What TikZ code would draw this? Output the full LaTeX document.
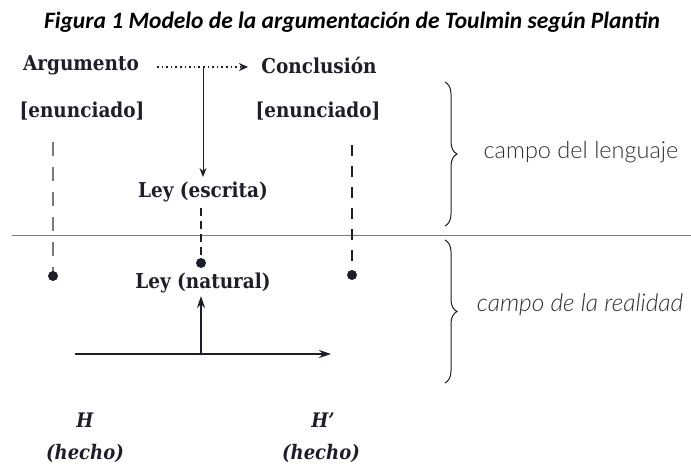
\documentclass[tikz,border=0pt]{standalone}
\usepackage{fontspec}
\setmainfont{DejaVu Serif Condensed}
\newfontfamily\titlefont{Carlito}
\newfontfamily\campofont{Lato}[UprightFont=*-Light, ItalicFont=*-LightItalic]
\usetikzlibrary{arrows.meta,decorations.pathreplacing}
\definecolor{ink}{HTML}{1E1E2A}
\definecolor{soft}{HTML}{2E2E38}
\definecolor{gline}{HTML}{7A7A7A}
\begin{document}
\begin{tikzpicture}[x=1pt,y=-1pt,
  lbl/.style={font=\fontsize{20.5}{24}\selectfont\bfseries, text=ink, inner sep=0pt, anchor=center},
  fact/.style={font=\fontsize{20}{24}\selectfont\bfseries\itshape, text=ink, inner sep=0pt},
  campo/.style={font=\campofont\fontsize{23.5}{27}\selectfont, text=soft, inner sep=0pt},
  dashv/.style={line width=1.4pt, dash pattern=on 11pt off 10pt},
  dotend/.style={fill=ink, circle, inner sep=0pt, minimum size=10pt},
  brc/.style={decorate, decoration={brace, amplitude=12pt}, line width=1pt, draw=ink}
]
\useasboundingbox (0,0) rectangle (691,466);
% title
\node[font=\titlefont\fontsize{23.5}{27}\selectfont\bfseries\itshape, inner sep=0pt] (title) at (352,22) {Figura 1 Modelo de la argumentación de Toulmin según Plantin};
% top labels
\node[lbl] (arg) at (81,65) {Argumento};
\node[lbl] (concl) at (319,65) {Conclusión};
\node[lbl] (enL) at (82,111) {[enunciado]};
\node[lbl] (enR) at (318,111) {[enunciado]};
\node[lbl] (leyE) at (203,192) {Ley (escrita)};
\node[lbl] (leyN) at (203,283) {Ley (natural)};
% facts
\node[fact] (H) at (85,420) {H};
\node[fact] (hL) at (85,453) {(hecho)};
\node[fact] (Hp) at (323,420) {H’};
\node[fact] (hR) at (321,453) {(hecho)};
% campo labels
\node[campo] (cL) at (581,152) {campo del lenguaje};
\node[campo, font=\campofont\itshape\fontsize{24.5}{28}\selectfont] (cR) at (580,305) {campo de la realidad};
% coordinates
\coordinate (d1) at (157,67);
\coordinate (d2) at (248,67);
\coordinate (v1) at (203,67);
\coordinate (v2) at (203,177);
\coordinate (m1) at (201,208);
\coordinate (m2) at (201,263);
\coordinate (l1) at (53,142);
\coordinate (l2) at (53,276);
\coordinate (r1) at (352,145);
\coordinate (r2) at (352,275);
\coordinate (s1) at (12,235);
\coordinate (s2) at (691,235);
\coordinate (h1) at (75,354);
\coordinate (h2) at (331,354);
\coordinate (u1) at (201,354);
\coordinate (u2) at (201,296);
\coordinate (b1) at (445,82);
\coordinate (b2) at (445,226);
\coordinate (b3) at (445,240);
\coordinate (b4) at (445,383);
% separator
\draw[gline, line width=1pt] (s1) -- (s2);
% dotted arrow
\draw[ink, line width=1.6pt, dash pattern=on 1.6pt off 3pt, -{Stealth[length=9pt,width=8pt]}] (d1) -- (d2);
% vertical arrow to Ley (escrita)
\draw[ink, line width=0.9pt, -{Stealth[length=9pt,width=7pt]}] (v1) -- (v2);
% dashed lines
\draw[ink, line width=1.4pt, dash pattern=on 8pt off 5pt] (m1) -- (m2);
\node[dotend] (md) at (m2) {};
\draw[gline, line width=2pt, dash pattern=on 14pt off 11pt] (l1) -- (l2);
\node[dotend] (ld) at (l2) {};
\draw[ink, dashv] (r1) -- (r2);
\node[dotend] (rd) at (r2) {};
% reality arrows
\draw[ink, line width=1.5pt, -{Stealth[length=12pt,width=8pt]}] (h1) -- (h2);
\draw[ink, line width=1.5pt, -{Stealth[length=12pt,width=8pt]}] (u1) -- (u2);
% braces
\draw[brc] (b1) -- (b2);
\draw[brc] (b3) -- (b4);
\end{tikzpicture}
\end{document}
